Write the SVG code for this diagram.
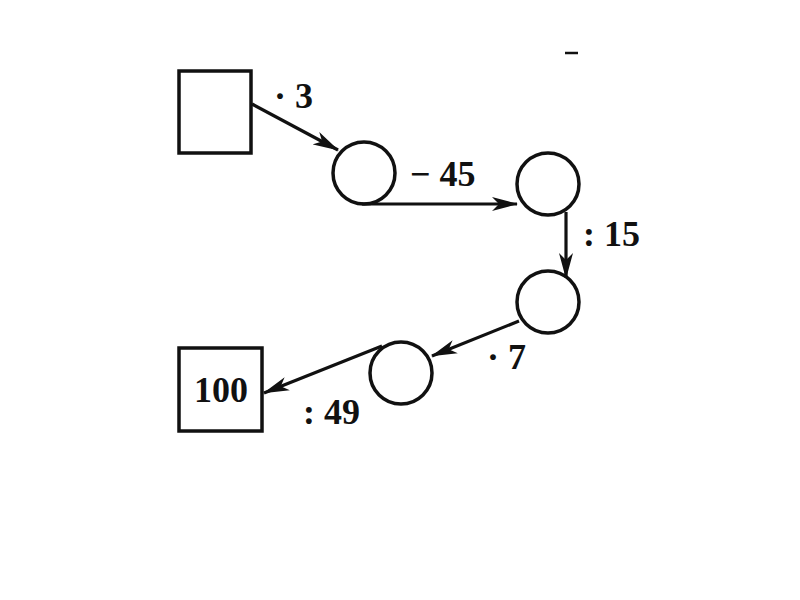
<svg xmlns="http://www.w3.org/2000/svg" width="800" height="600" viewBox="0 0 800 600">
<style>
.node{fill:none;stroke:#111;stroke-width:3.5}
.edge{fill:none;stroke:#111;stroke-width:3.2}
.lbl{font-family:"Liberation Serif","DejaVu Serif",serif;font-weight:bold;font-size:36px;fill:#111}
</style>
<defs>
<marker id="ah" markerUnits="userSpaceOnUse" markerWidth="26" markerHeight="16" refX="25" refY="8" orient="auto">
<path d="M0,1 L26,8 L0,15 L7,8 z" fill="#111"/>
</marker>
</defs>
<rect width="800" height="600" fill="#fff"/>
<g id="box1"><rect class="node" x="179" y="71" width="72" height="82"/></g>
<g id="c1"><circle class="node" cx="364" cy="173" r="31"/></g>
<g id="c2"><circle class="node" cx="548" cy="184" r="31"/></g>
<g id="c3"><circle class="node" cx="548" cy="302" r="31"/></g>
<g id="c4"><circle class="node" cx="401" cy="373" r="31"/></g>
<g id="box2"><rect class="node" x="179" y="348" width="83" height="83"/><text class="lbl" x="221" y="402" text-anchor="middle">100</text></g>
<g id="connectors">
<path class="edge" d="M252,104 L338,150" marker-end="url(#ah)"/>
<path class="edge" d="M362,204 L517,204" marker-end="url(#ah)"/>
<path class="edge" d="M566,212 L566,278" marker-end="url(#ah)"/>
<path class="edge" d="M519,321 L432,356" marker-end="url(#ah)"/>
<path class="edge" d="M382,346 L264,393" marker-end="url(#ah)"/>
</g>
<g id="labels">
<text class="lbl" x="274" y="108">· 3</text>
<text class="lbl" x="410" y="186">− 45</text>
<text class="lbl" x="583" y="246">: 15</text>
<text class="lbl" x="487" y="369">· 7</text>
<text class="lbl" x="303" y="424">: 49</text>
</g>
<line x1="565" y1="53" x2="578" y2="53" stroke="#111" stroke-width="2.5"/>
</svg>
